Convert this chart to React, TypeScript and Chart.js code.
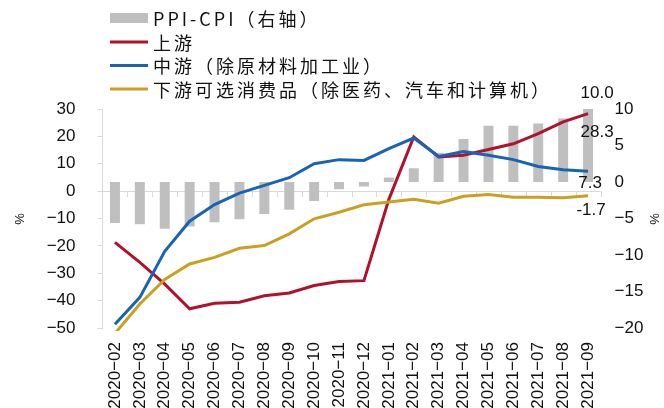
import React, { useEffect, useRef } from "react";
import { Chart, registerables } from "chart.js";

Chart.register(...registerables);

const categories = [
  "2020-02", "2020-03", "2020-04", "2020-05", "2020-06", "2020-07", "2020-08",
  "2020-09", "2020-10", "2020-11", "2020-12", "2021-01", "2021-02", "2021-03",
  "2021-04", "2021-05", "2021-06", "2021-07", "2021-08", "2021-09",
];
const ppiCpi = [-5.6, -5.8, -6.4, -6.1, -5.5, -5.1, -4.4, -3.8, -2.6, -1.0, -0.6, 0.6, 1.9, 4.0, 5.9, 7.7, 7.7, 8.0, 8.7, 10.0];
const upstream = [-18.7, -26.0, -34.0, -43.0, -41.0, -40.6, -38.2, -37.2, -34.5, -33.0, -32.7, -3.0, 19.8, 12.5, 13.1, 15.2, 17.3, 21.0, 25.3, 28.3];
const midstream = [-48.6, -38.8, -22.0, -11.0, -4.9, -0.7, 2.1, 4.9, 10.0, 11.5, 11.2, 15.5, 19.4, 12.7, 14.5, 13.1, 11.5, 9.0, 7.8, 7.3];
const downstream = [-52.0, -41.2, -32.3, -26.6, -24.2, -20.9, -19.9, -15.6, -10.1, -7.7, -5.0, -4.0, -3.0, -4.4, -1.9, -1.2, -2.2, -2.2, -2.4, -1.7];

const seriesNames = ["PPI-CPI（右轴）", "上游", "中游（除原材料加工业）", "下游可选消费品（除医药、汽车和计算机）"];
const leftTicks = { min: -50, max: 30, step: 10 };
const rightTicks = { min: -20, max: 10, step: 5 };

const GRAY = "#bfbfbf";
const RED = "#b0122d";
const BLUE = "#1764b5";
const YELLOW = "#c9a020";
const AXIS = "#d9d9d9";
const TICK_FONT = { family: "Liberation Sans, Arial, sans-serif", size: 17 };

const minus = (v: number | string) => String(v).replace("-", "\u2212");

// label offsets for end-of-series value labels [dx, dy]
const endLabelOffsets: Record<number, [number, number]> = {
  0: [9, -16],
  1: [9, 19],
  2: [2, 12],
  3: [3, 15],
};

const decorPlugin = {
  id: "decor",
  beforeDatasetsDraw(chart: any) {
    const { ctx, chartArea, scales } = chart;
    const y0 = scales.y.getPixelForValue(0);
    ctx.save();
    ctx.strokeStyle = AXIS;
    ctx.lineWidth = 1;
    ctx.beginPath();
    ctx.moveTo(chartArea.left, Math.round(y0) + 0.5);
    ctx.lineTo(chartArea.right, Math.round(y0) + 0.5);
    const n = categories.length;
    const w = (chartArea.right - chartArea.left) / n;
    for (let i = 1; i <= n; i++) {
      const x = Math.round(chartArea.left + i * w) + 0.5;
      ctx.moveTo(x, Math.round(y0));
      ctx.lineTo(x, Math.round(y0) + 6);
    }
    ctx.stroke();
    ctx.restore();
  },
  afterDraw(chart: any) {
    const { ctx } = chart;
    ctx.save();
    // axis titles
    ctx.fillStyle = "#111";
    ctx.font = "13px Liberation Sans, Arial, sans-serif";
    ctx.textAlign = "center";
    ctx.textBaseline = "middle";
    [[20, 219], [655, 219]].forEach(([x, y]) => {
      ctx.save();
      ctx.translate(x, y);
      ctx.rotate(-Math.PI / 2);
      ctx.fillText("%", 0, 0);
      ctx.restore();
    });

    // end labels
    ctx.font = "17px Liberation Sans, Arial, sans-serif";
    ctx.fillStyle = "#111";
    chart.data.datasets.forEach((ds: any, di: number) => {
      const meta = chart.getDatasetMeta(di);
      const last = meta.data[meta.data.length - 1];
      const val = ds.data[ds.data.length - 1];
      const [dx, dy] = endLabelOffsets[di];
      const y = ds.yAxisID === "y1" ? chart.scales.y1.getPixelForValue(val) : last.y;
      ctx.fillText(Number(val).toFixed(1), last.x + dx, y + dy);
    });

    // legend
    ctx.font = "18px 'Noto Sans CJK SC', sans-serif";
    (ctx as any).letterSpacing = "3px";
    ctx.textAlign = "left";
    const rows = [18, 42, 65.5, 89];
    chart.data.datasets.forEach((ds: any, di: number) => {
      const y = rows[di];
      if (ds.type === "bar") {
        ctx.fillStyle = ds.backgroundColor;
        ctx.fillRect(110, y - 5, 38, 10);
      } else {
        ctx.strokeStyle = ds.borderColor;
        ctx.lineWidth = 3;
        ctx.beginPath();
        ctx.moveTo(110, y);
        ctx.lineTo(148, y);
        ctx.stroke();
      }
      ctx.fillStyle = "#111";
      ctx.fillText(ds.label, 153, y + 1);
    });
    ctx.restore();
  },
};

export default function App() {
  const ref = useRef<HTMLCanvasElement | null>(null);
  useEffect(() => {
    document.body.style.margin = "0";
    if (!ref.current) return;
    const chart = new Chart(ref.current, {
      type: "bar",
      data: {
        labels: categories,
        datasets: [
          {
            type: "bar",
            label: seriesNames[0],
            data: ppiCpi,
            yAxisID: "y1",
            backgroundColor: GRAY,
            barPercentage: 0.4,
            categoryPercentage: 1,
            order: 10,
          },
          {
            type: "line",
            label: seriesNames[1],
            data: upstream,
            yAxisID: "y",
            borderColor: RED,
            backgroundColor: RED,
            borderWidth: 3,
            pointRadius: 0,
            tension: 0,
            order: 3,
            clip: 3,
          },
          {
            type: "line",
            label: seriesNames[2],
            data: midstream,
            yAxisID: "y",
            borderColor: BLUE,
            backgroundColor: BLUE,
            borderWidth: 3,
            pointRadius: 0,
            tension: 0,
            order: 2,
            clip: 3,
          },
          {
            type: "line",
            label: seriesNames[3],
            data: downstream,
            yAxisID: "y",
            borderColor: YELLOW,
            backgroundColor: YELLOW,
            borderWidth: 3,
            pointRadius: 0,
            tension: 0,
            order: 1,
            clip: 3,
          },
        ] as any,
      },
      options: {
        animation: false,
        responsive: false,
        devicePixelRatio: 1,
        layout: { padding: { top: 109, left: 0, right: 0, bottom: 0 } },
        plugins: { legend: { display: false }, tooltip: { enabled: false } },
        scales: {
          x: {
            grid: { display: false, drawTicks: false },
            border: { display: false },
            ticks: {
              minRotation: 90,
              maxRotation: 90,
              padding: 14,
              color: "#111",
              font: TICK_FONT,
              autoSkip: false,
              callback: (v: any, i: number) => categories[i].replace("-", "\u2212"),
            },
            afterFit: (s: any) => { s.height = 80; },
          },
          y: {
            position: "left",
            min: leftTicks.min,
            max: leftTicks.max,
            grid: { display: true, drawOnChartArea: false, drawTicks: true, tickLength: 5, color: AXIS },
            border: { display: true, color: AXIS },
            ticks: { stepSize: leftTicks.step, padding: 22, color: "#111", font: TICK_FONT, callback: (v: any) => minus(v) },
            afterFit: (s: any) => { s.width = 102.5; },
          },
          y1: {
            position: "right",
            min: rightTicks.min,
            max: rightTicks.max,
            grid: { display: false, drawTicks: false },
            border: { display: false },
            ticks: { stepSize: rightTicks.step, padding: 14, color: "#111", font: TICK_FONT, callback: (v: any) => minus(v) },
            afterFit: (s: any) => { s.width = 63.5; },
          },
        },
      } as any,
      plugins: [decorPlugin],
    });
    return () => chart.destroy();
  }, []);
  return (
    <div style={{ position: "relative", width: 664, height: 408, background: "#fff" }}>
      <canvas ref={ref} width={664} height={408} style={{ display: "block" }} />
    </div>
  );
}
